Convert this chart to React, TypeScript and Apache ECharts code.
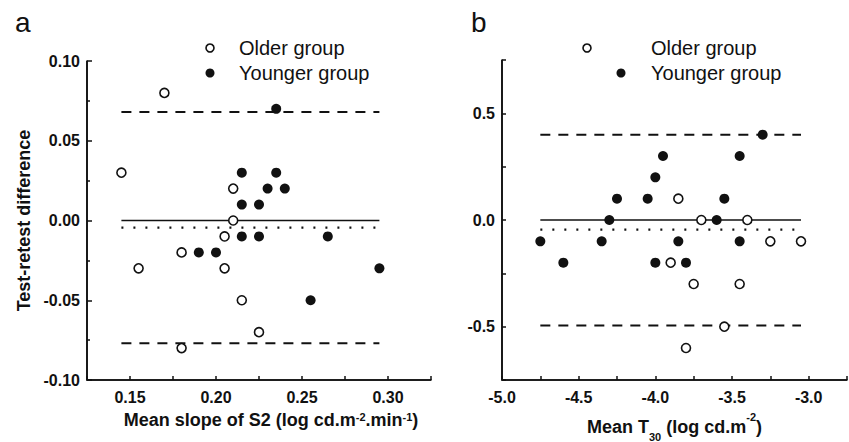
import React, { useEffect, useRef } from "react";
import * as echarts from "echarts";

const FONT = '"Liberation Sans", Arial, Helvetica, sans-serif';
const INK = "#111111";

// Panel a data
const aOlderX = [0.145, 0.155, 0.17, 0.18, 0.18, 0.205, 0.205, 0.21, 0.21, 0.215, 0.225];
const aOlderY = [0.03, -0.03, 0.08, -0.02, -0.08, -0.01, -0.03, 0.02, 0.0, -0.05, -0.07];
const aYoungerX = [0.19, 0.2, 0.215, 0.215, 0.215, 0.225, 0.225, 0.23, 0.235, 0.235, 0.24, 0.255, 0.265, 0.295];
const aYoungerY = [-0.02, -0.02, 0.03, 0.01, -0.01, 0.01, -0.01, 0.02, 0.07, 0.03, 0.02, -0.05, -0.01, -0.03];
const aLineX = [0.145, 0.295];
const aZero = 0;
const aBias = -0.0045;
const aUpper = 0.068;
const aLower = -0.077;
const aXRange = [0.125, 0.325];
const aYRange = [-0.1, 0.1];

// Panel b data
const bOlderX = [-3.9, -3.85, -3.8, -3.75, -3.7, -3.55, -3.45, -3.4, -3.25, -3.05];
const bOlderY = [-0.2, 0.1, -0.6, -0.3, 0.0, -0.5, -0.3, 0.0, -0.1, -0.1];
const bYoungerX = [-4.75, -4.6, -4.35, -4.3, -4.25, -4.05, -4.0, -4.0, -3.95, -3.85, -3.8, -3.6, -3.55, -3.45, -3.45, -3.3];
const bYoungerY = [-0.1, -0.2, -0.1, 0.0, 0.1, 0.1, 0.2, -0.2, 0.3, -0.1, -0.2, 0.0, 0.1, 0.3, -0.1, 0.4];
const bLineX = [-4.75, -3.05];
const bZero = 0;
const bBias = -0.045;
const bUpper = 0.4;
const bLower = -0.495;
const bXRange = [-5, -2.75];
const bYRange = [-0.75, 0.75];

const legendLabels = ["Older group", "Younger group"];

const zip = (xs: number[], ys: number[]) => xs.map((x, i) => [x, ys[i]]);

export default function App() {
  const ref = useRef<HTMLDivElement>(null);

  useEffect(() => {
    if (!ref.current) return;
    const chart = echarts.init(ref.current, undefined, { renderer: "svg" });

    const mkAxisLine = () => ({ show: true, onZero: false, lineStyle: { color: INK, width: 1.6 } });
    const mkTick = (len: number) => ({
      show: true,
      inside: true,
      length: len,
      lineStyle: { color: INK, width: 1.5 },
    });
    const labelStyle = { fontFamily: FONT, fontWeight: "bold" as const, fontSize: 16, color: INK };
    const nameStyle = {
      fontFamily: FONT,
      fontWeight: "bold" as const,
      fontSize: 18,
      color: INK,
    };

    const lineSeries = (
      xi: number,
      yi: number,
      pts: number[][],
      type: any,
      width: number,
      clip = true
    ) => ({
      type: "line",
      xAxisIndex: xi,
      yAxisIndex: yi,
      data: pts,
      symbol: "none",
      silent: true,
      clip,
      z: 1,
      lineStyle: { color: INK, width, type },
    });
    const hLine = (xi: number, yi: number, xs: number[], y: number, type: any, width: number) =>
      lineSeries(xi, yi, xs.map((x) => [x, y]), type, width);
    const frame = (xi: number, yi: number, xr: number[], yr: number[]) =>
      lineSeries(
        xi,
        yi,
        [
          [xr[0], yr[1]],
          [xr[0], yr[0]],
          [xr[1], yr[0]],
        ],
        "solid",
        1.6,
        false
      );

    const openPts = (xi: number, yi: number, xs: number[], ys: number[], name: string) => ({
      type: "scatter",
      name,
      xAxisIndex: xi,
      yAxisIndex: yi,
      data: zip(xs, ys),
      symbol: "circle",
      symbolSize: 9,
      z: 3,
      itemStyle: { color: "#ffffff", borderColor: INK, borderWidth: 1.6, opacity: 1 },
    });
    const filledPts = (xi: number, yi: number, xs: number[], ys: number[], name: string) => ({
      type: "scatter",
      name,
      xAxisIndex: xi,
      yAxisIndex: yi,
      data: zip(xs, ys),
      symbol: "circle",
      symbolSize: 10,
      z: 3,
      itemStyle: { color: INK, opacity: 1 },
    });

    const legendItems = (
      openX: number,
      filledX: number,
      textX: number,
      y1: number,
      y2: number
    ) => [
      {
        type: "circle",
        shape: { cx: openX, cy: y1, r: 4 },
        style: { fill: "#fff", stroke: INK, lineWidth: 1.6 },
      },
      {
        type: "text",
        x: textX,
        y: y1,
        style: {
          text: legendLabels[0],
          font: `20px ${FONT}`,
          fill: INK,
          verticalAlign: "middle",
          align: "left",
        },
      },
      {
        type: "circle",
        shape: { cx: filledX, cy: y2, r: 4.5 },
        style: { fill: INK },
      },
      {
        type: "text",
        x: textX,
        y: y2,
        style: {
          text: legendLabels[1],
          font: `20px ${FONT}`,
          fill: INK,
          verticalAlign: "middle",
          align: "left",
        },
      },
    ];

    const supStyle = {
      fontFamily: FONT,
      fontWeight: "bold",
      fontSize: 11,
      color: INK,
      verticalAlign: "top",
    };

    const option: any = {
      animation: false,
      backgroundColor: "#ffffff",
      grid: [
        { left: 87, top: 61, width: 344, height: 319, containLabel: false, outerBoundsMode: "none" },
        { left: 502, top: 60, width: 345, height: 320, containLabel: false, outerBoundsMode: "none" },
      ],
      xAxis: [
        {
          type: "value",
          gridIndex: 0,
          position: "bottom",
          z: 10,
          min: aXRange[0],
          max: aXRange[1],
          interval: 0.025,
          axisLine: mkAxisLine(),
          splitLine: { show: false },
          axisTick: mkTick(4),
          axisLabel: {
            ...labelStyle,
            margin: 9,
            formatter: (v: number) =>
              Math.abs(Math.round(v * 1000) % 50) === 0 ? v.toFixed(2) : "",
          },
          name: "Mean slope of S2 (log cd.m{sup|-2}.min{sup|-1})",
          nameLocation: "middle",
          nameGap: 31,
          nameMoveOverlap: false,
          nameTextStyle: {
            ...nameStyle,
            padding: [0, 0, 0, 24],
            rich: { sup: supStyle },
          },
        },
        {
          type: "value",
          gridIndex: 1,
          position: "bottom",
          z: 10,
          min: bXRange[0],
          max: bXRange[1],
          interval: 0.25,
          axisLine: mkAxisLine(),
          splitLine: { show: false },
          axisTick: mkTick(4),
          axisLabel: {
            ...labelStyle,
            margin: 9,
            formatter: (v: number) =>
              Math.abs(Math.round(v * 100) % 50) === 0 ? v.toFixed(1) : "",
          },
          name: "Mean T{sub|30} (log cd.m{sup|-2})",
          nameLocation: "middle",
          nameGap: 31,
          nameMoveOverlap: false,
          nameTextStyle: {
            ...nameStyle,
            rich: {
              sup: supStyle,
              sub: {
                fontFamily: FONT,
                fontWeight: "bold",
                fontSize: 11,
                color: INK,
                verticalAlign: "bottom",
                padding: [20, 0, 0, 0],
              },
            },
          },
        },
      ],
      yAxis: [
        {
          type: "value",
          gridIndex: 0,
          position: "left",
          z: 10,
          min: aYRange[0],
          max: aYRange[1],
          interval: 0.05,
          axisLine: mkAxisLine(),
          splitLine: { show: false },
          axisTick: mkTick(5),
          minorTick: { show: true, splitNumber: 2, length: 3, lineStyle: { color: INK, width: 1.5 } },
          minorSplitLine: { show: false },
          axisLabel: { ...labelStyle, margin: 7, formatter: (v: number) => v.toFixed(2) },
          name: "Test-retest difference",
          nameLocation: "middle",
          nameRotate: 90,
          nameGap: 54,
          nameMoveOverlap: false,
          nameTextStyle: nameStyle,
        },
        {
          type: "value",
          gridIndex: 1,
          position: "left",
          z: 10,
          min: bYRange[0],
          max: bYRange[1],
          interval: 0.25,
          axisLine: mkAxisLine(),
          splitLine: { show: false },
          axisTick: mkTick(4),
          axisLabel: {
            ...labelStyle,
            margin: 7,
            formatter: (v: number) =>
              Math.abs(Math.round(v * 100) % 50) === 0 ? v.toFixed(1) : "",
          },
        },
      ],
      series: [
        frame(0, 0, aXRange, aYRange),
        hLine(0, 0, aLineX, aZero, "solid", 1.3),
        hLine(0, 0, aLineX, aBias, [2, 10], 2.2),
        hLine(0, 0, aLineX, aUpper, [10, 8], 2),
        hLine(0, 0, aLineX, aLower, [10, 8], 2),
        openPts(0, 0, aOlderX, aOlderY, legendLabels[0]),
        filledPts(0, 0, aYoungerX, aYoungerY, legendLabels[1]),
        frame(1, 1, bXRange, bYRange),
        hLine(1, 1, bLineX, bZero, "solid", 1.3),
        hLine(1, 1, bLineX, bBias, [2, 10], 2.2),
        hLine(1, 1, bLineX, bUpper, [10, 8], 2),
        hLine(1, 1, bLineX, bLower, [10, 8], 2),
        openPts(1, 1, bOlderX, bOlderY, legendLabels[0]),
        filledPts(1, 1, bYoungerX, bYoungerY, legendLabels[1]),
      ],
      graphic: [
        {
          type: "text",
          left: 15,
          top: 8,
          style: { text: "a", font: `28px ${FONT}`, fill: INK },
        },
        {
          type: "text",
          left: 471,
          top: 8,
          style: { text: "b", font: `28px ${FONT}`, fill: INK },
        },
        ...legendItems(210, 210, 239, 48, 73),
        ...legendItems(587, 621, 651, 48, 73),
      ],
    };

    chart.setOption(option);
    return () => chart.dispose();
  }, []);

  return (
    <div
      ref={ref}
      style={{ position: "fixed", left: 0, top: 0, width: 849, height: 442, background: "#fff" }}
    />
  );
}
